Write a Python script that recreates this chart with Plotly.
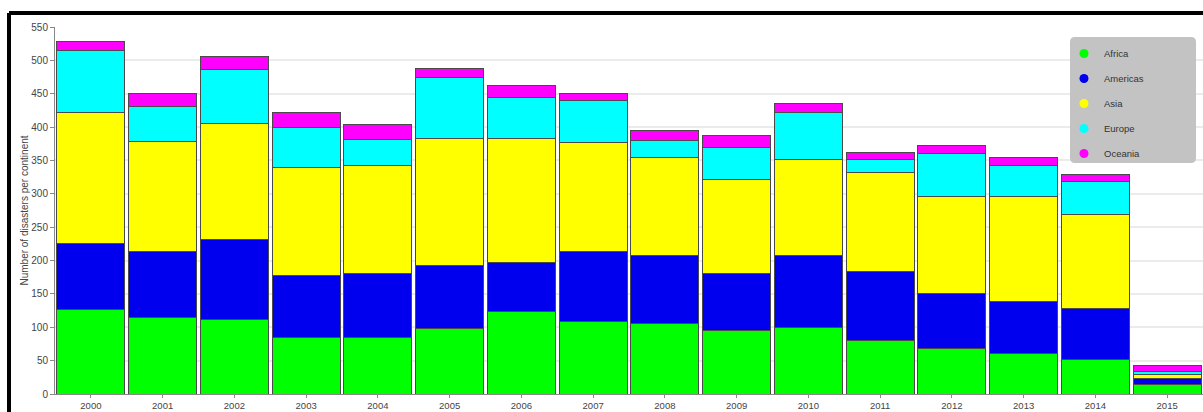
import plotly.graph_objects as go

years = ["2000", "2001", "2002", "2003", "2004", "2005", "2006", "2007",
         "2008", "2009", "2010", "2011", "2012", "2013", "2014", "2015"]
africa   = [126, 115, 112, 84, 85, 98, 123, 109, 105, 95, 99, 80, 68, 60, 52, 14]
americas = [100, 98, 119, 93, 95, 95, 74, 104, 102, 85, 108, 103, 83, 79, 76, 9]
asia     = [196, 165, 174, 162, 163, 190, 186, 164, 147, 141, 145, 149, 145, 157, 141, 6]
europe   = [93, 53, 81, 61, 38, 91, 61, 63, 26, 48, 70, 19, 65, 46, 49, 5]
oceania  = [14, 20, 20, 22, 23, 14, 18, 11, 15, 18, 14, 11, 12, 12, 11, 8]

series_names = ["Africa", "Americas", "Asia", "Europe", "Oceania"]
series_values = [africa, americas, asia, europe, oceania]
colors = ["#00ff00", "#0000ee", "#ffff00", "#00ffff", "#ff00ff"]
y_ticks = list(range(0, 551, 50))

W, H = 1203, 412
ML, MR, MT, MB = 55, 0, 27, 18
PW, PH = W - ML - MR, H - MT - MB

def px_x(p):
    return (p - ML) / PW

def px_y(p):
    return (H - MB - p) / PH

fig = go.Figure()
for name, vals, col in zip(series_names, series_values, colors):
    fig.add_trace(go.Bar(
        x=years, y=vals, name=name, showlegend=False,
        marker=dict(color=col, line=dict(color="#4a4a4a", width=1)),
    ))
for name, col in zip(series_names, colors):
    fig.add_trace(go.Scatter(
        x=[None], y=[None], mode="markers", name=name,
        legendgroup=name,
        marker=dict(color=col, size=9, symbol="circle"),
    ))

# legend rounded box
x0, x1 = px_x(1070), px_x(1196)
y0, y1 = px_y(163), px_y(37)
rx, ry = 5 / PW, 5 / PH
path = (f"M {x0+rx},{y1} L {x1-rx},{y1} Q {x1},{y1} {x1},{y1-ry} "
        f"L {x1},{y0+ry} Q {x1},{y0} {x1-rx},{y0} L {x0+rx},{y0} "
        f"Q {x0},{y0} {x0},{y0+ry} L {x0},{y1-ry} Q {x0},{y1} {x0+rx},{y1} Z")

shapes = [
    dict(type="path", xref="paper", yref="paper", path=path,
         fillcolor="#c3c3c3", line=dict(width=0), layer="above"),
    # black frame (left and top edges visible)
    dict(type="line", xref="paper", yref="paper",
         x0=px_x(9), x1=px_x(1210), y0=px_y(13), y1=px_y(13),
         line=dict(color="black", width=4)),
    dict(type="line", xref="paper", yref="paper",
         x0=px_x(9), x1=px_x(9), y0=px_y(13), y1=px_y(420),
         line=dict(color="black", width=4)),
]

fig.update_layout(
    width=W, height=H,
    margin=dict(l=ML, r=MR, t=MT, b=MB, autoexpand=False),
    barmode="stack", bargap=0.055,
    plot_bgcolor="white", paper_bgcolor="white",
    font=dict(family="Liberation Sans, Arial, sans-serif", size=10, color="#444"),
    shapes=shapes,
    showlegend=True,
    legend=dict(
        x=px_x(1064), y=px_y(39), xanchor="left", yanchor="top",
        bgcolor="rgba(0,0,0,0)", borderwidth=0,
        font=dict(size=9.5, color="#333"),
        tracegroupgap=6, itemsizing="trace",
    ),
    xaxis=dict(
        type="category", range=[-0.5, 15.5],
        showline=True, linecolor="#888", linewidth=1,
        ticks="outside", ticklen=3, tickcolor="#888",
        showgrid=False, tickfont=dict(size=9.5, color="#444"),
        fixedrange=True,
    ),
    yaxis=dict(
        range=[0, 550], tickvals=y_ticks,
        showline=True, linecolor="#888", linewidth=1,
        ticks="outside", ticklen=4, tickcolor="#888",
        showgrid=True, gridcolor="#ebebeb", gridwidth=1.5,
        zeroline=False, tickfont=dict(size=10, color="#444"),
        title=dict(text="Number of disasters per continent",
                   font=dict(size=10, color="#444"), standoff=0),
    ),
)

fig.write_html("out.html",
               config={"displayModeBar": False},
               post_script="document.body.style.margin='0';document.body.style.overflow='hidden';")
